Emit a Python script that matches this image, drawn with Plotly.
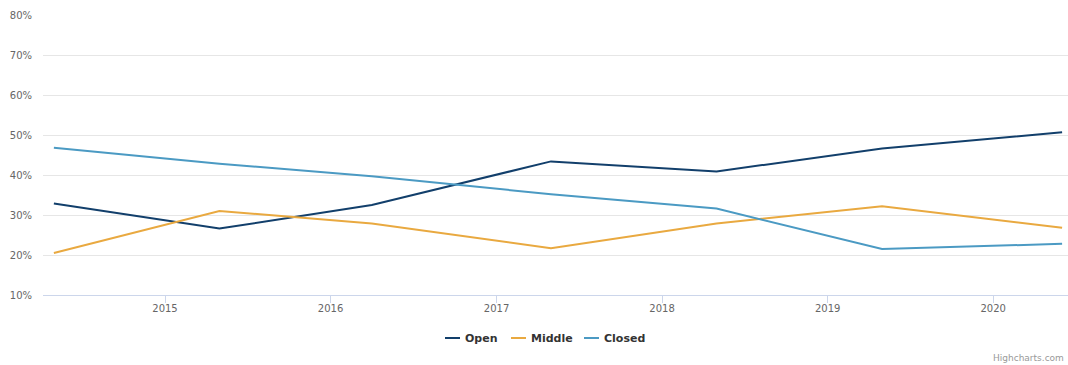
import plotly.graph_objects as go

# Survey dates and share of responses (%) per category
dates = ["2014-05-01", "2015-05-01", "2016-04-01", "2017-05-01",
         "2018-05-01", "2019-05-01", "2020-06-01"]
open_pct = [32.9, 26.6, 32.5, 43.4, 40.9, 46.6, 50.7]
middle_pct = [20.5, 31.0, 27.9, 21.7, 27.9, 32.2, 26.8]
closed_pct = [46.8, 42.8, 39.7, 35.2, 31.6, 21.5, 22.8]

series_names = ["Open", "Middle", "Closed"]
series_values = [open_pct, middle_pct, closed_pct]
series_colors = ["#123f6b", "#e9a940", "#4b9ac3"]

FONT = "Lucida Grande, DejaVu Sans, sans-serif"
W, H = 1068, 365
M_L, M_R, M_T, M_B = 43, 0, 15, 70
PLOT_W = W - M_L - M_R
PLOT_H = H - M_T - M_B


def px_x(px):
    """Horizontal pixel -> paper coordinate."""
    return (px - M_L) / PLOT_W


def px_y(py):
    """Vertical pixel (from top) -> paper coordinate."""
    return (H - M_B - py) / PLOT_H


fig = go.Figure()
for name, values, color in zip(series_names, series_values, series_colors):
    fig.add_trace(go.Scatter(
        x=dates, y=values, name=name, mode="lines",
        line=dict(color=color, width=2), showlegend=False,
    ))

# Compact legend below the plot: short line swatch followed by a bold label
legend_y = 338
legend_starts = [445, 511, 584]
for name, color, x0 in zip(series_names, series_colors, legend_starts):
    fig.add_shape(
        type="line", xref="paper", yref="paper",
        x0=px_x(x0), x1=px_x(x0 + 15), y0=px_y(legend_y), y1=px_y(legend_y),
        line=dict(color=color, width=2),
    )
    fig.add_annotation(
        text=f"<b>{name}</b>", xref="paper", yref="paper",
        x=px_x(x0 + 18), y=px_y(legend_y), xanchor="left", yanchor="middle",
        showarrow=False, font=dict(family=FONT, size=11, color="#333333"),
    )

fig.update_layout(
    width=W, height=H,
    margin=dict(l=M_L, r=M_R, t=M_T, b=M_B),
    paper_bgcolor="white", plot_bgcolor="white",
    font=dict(family=FONT, color="#666666", size=10),
    showlegend=False,
    xaxis=dict(
        type="date",
        range=["2014-04-07", "2020-06-14"],
        tick0="2015-01-01", dtick="M12", tickformat="%Y",
        showgrid=False, zeroline=False,
        showline=True, linecolor="#ccd6eb", linewidth=1,
        ticks="outside", ticklen=7, tickcolor="#ccd6eb",
        tickfont=dict(family=FONT, size=10, color="#666666"),
        ticklabelstandoff=-3,
    ),
    yaxis=dict(
        range=[10, 80], dtick=10, ticksuffix="%",
        showgrid=True, gridcolor="#e6e6e6", gridwidth=1,
        zeroline=False, showline=False,
        tickfont=dict(family=FONT, size=10, color="#666666"),
        ticklabelstandoff=10,
    ),
)

fig.add_annotation(
    text="Highcharts.com", xref="paper", yref="paper",
    x=px_x(1066), y=px_y(358), xanchor="right", yanchor="middle",
    showarrow=False, font=dict(family=FONT, size=9, color="#999999"),
)

fig.write_html("out.html")
